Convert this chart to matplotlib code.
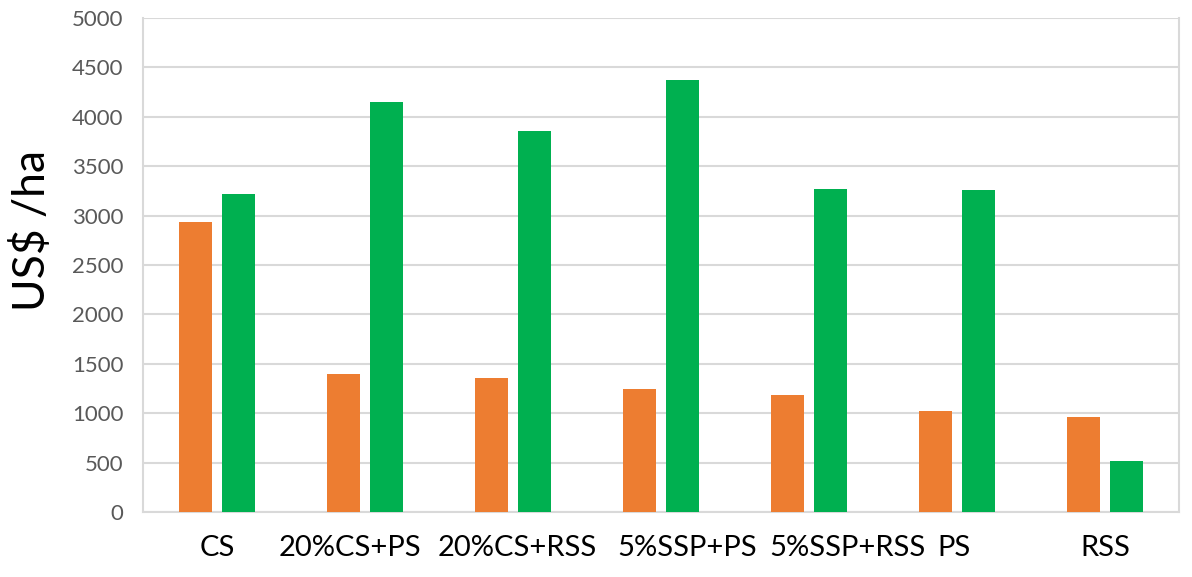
import matplotlib.pyplot as plt
import numpy as np

plt.rcParams['font.family'] = ['Lato', 'DejaVu Sans']

treatments = ['CS', '20%CS+PS', '20%CS+RSS', '5%SSP+PS', '5%SSP+RSS', 'PS', 'RSS']
orange_vals = [2940, 1400, 1355, 1240, 1180, 1020, 965]
green_vals = [3220, 4150, 3855, 4375, 3270, 3255, 515]

# label nudges (data units) so the long names don't collide
label_shift = [0.0, -0.1, 0.03, 0.18, 0.26, -0.02, 0.0]

fig = plt.figure(figsize=(11.92, 5.77), dpi=100)
ax = fig.add_axes([0.12, 0.1127, 0.869, 0.856])

x = np.arange(len(treatments))
w = 0.223
ax.bar(x - 0.145, orange_vals, w, color='#ED7D31', zorder=3)
ax.bar(x + 0.145, green_vals, w, color='#00B050', zorder=3)

ax.set_xlim(-0.5, len(treatments) - 0.5)
ax.set_ylim(0, 5000)
ax.set_yticks(np.arange(0, 5001, 500))
ax.yaxis.grid(True, color='#D9D9D9', linewidth=1.5, zorder=0)
ax.tick_params(axis='y', length=0, labelsize=16, labelcolor='#595959', pad=14)
ax.set_xticks([])
for i, name in enumerate(treatments):
    ax.text(x[i] + label_shift[i], -230, name, ha='center', va='top',
            fontsize=21, color='black')

for side in ['left', 'right', 'bottom']:
    ax.spines[side].set_color('#D9D9D9')
    ax.spines[side].set_linewidth(1.5)
ax.spines['top'].set_visible(False)

fig.text(0.027, 0.6, 'US$ /ha', rotation=90, ha='center', va='center', fontsize=32)

fig.savefig('out.png', dpi=100)
